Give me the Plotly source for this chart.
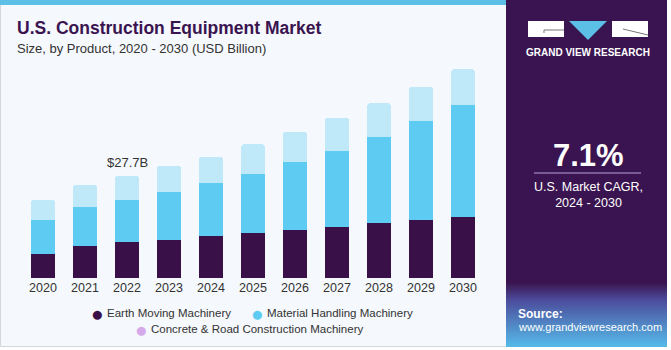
import plotly.graph_objects as go

# ---------------- data ----------------
years = ["2020", "2021", "2022", "2023", "2024", "2025", "2026", "2027", "2028", "2029", "2030"]
earth_moving = [6.58, 8.75, 9.64, 10.29, 11.37, 12.27, 12.89, 13.70, 14.79, 15.60, 16.52]
material_handling = [9.21, 10.48, 11.56, 12.89, 14.43, 15.98, 18.41, 20.58, 23.48, 26.81, 30.22]
concrete_road = [5.42, 5.96, 6.50, 7.15, 7.04, 7.93, 8.31, 9.13, 9.02, 9.32, 9.75]
series_names = ["Earth Moving Machinery", "Material Handling Machinery",
                "Concrete & Road Construction Machinery"]
highlight_label = "&#36;27.7B"
highlight_index = 2
cagr_text = "7.1%"

# ---------------- style ----------------
C_DARK = "#3a1049"
C_MED = "#5ecbf3"
C_LIGHT = "#bfe9f9"
C_LEG3 = "#d6a9ea"
C_PANEL = "#3a1450"
C_BG = "#f5f8fc"
C_TEXT = "#333333"
FONT = "Liberation Sans, Arial, sans-serif"

W, H = 671, 350
ML, MR, MT, MB = 22, 187, 60, 72
PW, PH = W - ML - MR, H - MT - MB


def px(x):
    return (x - ML) / PW


def py(y):
    return (H - MB - y) / PH


fig = go.Figure()
for vals, col, name in zip([earth_moving, material_handling, concrete_road],
                           [C_DARK, C_MED, C_LIGHT], series_names):
    fig.add_trace(go.Bar(x=years, y=vals, name=name, marker=dict(color=col, line=dict(width=0)),
                         showlegend=False, hoverinfo="skip"))

totals = [a + b + c for a, b, c in zip(earth_moving, material_handling, concrete_road)]

shapes = []
# left panel background
shapes.append(dict(type="rect", xref="paper", yref="paper", x0=px(0.5), x1=px(520), y0=py(346.5), y1=py(0),
                   fillcolor=C_BG, line=dict(color="#d3d6da", width=1), layer="below"))
# top blue strip
shapes.append(dict(type="rect", xref="paper", yref="paper", x0=px(0), x1=px(506), y0=py(5), y1=py(0),
                   fillcolor="#5cc0e6", line=dict(width=0), layer="below"))
# right panel
shapes.append(dict(type="rect", xref="paper", yref="paper", x0=px(506), x1=px(667), y0=py(347), y1=py(0),
                   fillcolor=C_PANEL, line=dict(width=0), layer="below"))


# gradient bottom of right panel
def hex2rgb(h):
    h = h.lstrip("#")
    return [int(h[i:i + 2], 16) for i in (0, 2, 4)]


stops = [(283, hex2rgb("#3b1650")), (300, hex2rgb("#4c4c9c")), (347, hex2rgb("#55bbea"))]
y = 283
while y < 347:
    yc = y + 1
    for (ya, ca), (yb, cb) in zip(stops[:-1], stops[1:]):
        if ya <= yc <= yb:
            t = (yc - ya) / (yb - ya)
            c = [round(ca[i] + (cb[i] - ca[i]) * t) for i in range(3)]
    shapes.append(dict(type="rect", xref="paper", yref="paper", x0=px(506), x1=px(667),
                       y0=py(min(y + 2, 347)), y1=py(y), fillcolor="rgb(%d,%d,%d)" % tuple(c),
                       line=dict(width=0), layer="below"))
    y += 2

# logo
shapes.append(dict(type="rect", xref="paper", yref="paper", x0=px(528), x1=px(564), y0=py(37), y1=py(21),
                   fillcolor="white", line=dict(width=0)))
shapes.append(dict(type="rect", xref="paper", yref="paper", x0=px(612), x1=px(648), y0=py(37), y1=py(21),
                   fillcolor="white", line=dict(width=0)))
shapes.append(dict(type="path", xref="paper", yref="paper",
                   path="M %f,%f L %f,%f L %f,%f Z" % (px(569), py(21), px(607), py(21), px(588), py(40)),
                   fillcolor="#5cc0e6", line=dict(width=0)))
shapes.append(dict(type="path", xref="paper", yref="paper",
                   path="M %f,%f L %f,%f L %f,%f" % (px(544), py(33), px(544), py(30), px(564), py(30)),
                   line=dict(color="#777777", width=1)))
shapes.append(dict(type="line", xref="paper", yref="paper", x0=px(623), x1=px(648), y0=py(29), y1=py(35),
                   line=dict(color="#777777", width=1)))
# CAGR underline
shapes.append(dict(type="line", xref="paper", yref="paper", x0=px(534), x1=px(641), y0=py(173), y1=py(173),
                   line=dict(color="#b7a2d4", width=1.2)))

annotations = []


def ann(x, y, text, size, color=C_TEXT, xanchor="left", bold=False, align="left"):
    annotations.append(dict(xref="paper", yref="paper", x=px(x), y=py(y), text=("<b>%s</b>" % text) if bold else text,
                            showarrow=False, xanchor=xanchor, yanchor="middle", align=align,
                            font=dict(size=size, color=color, family=FONT)))


ann(15, 28, "U.S. Construction Equipment Market", 17.5, "#3a1450", bold=True)
ann(15, 48, "Size, by Product, 2020 - 2030 (USD Billion)", 13, C_TEXT)
ann(588, 52, "GRAND VIEW RESEARCH", 10, "white", xanchor="center", bold=True)
ann(588, 155, cagr_text, 31, "white", xanchor="center", bold=True)
ann(588, 195, "U.S. Market CAGR,<br>2024 - 2030", 12.5, "white", xanchor="center", align="center")
ann(516, 314, "Source:", 12, "white", bold=True)
ann(516, 327, "www.grandviewresearch.com", 11, "white")

# legend (manual)
leg = [(97, 313, C_DARK, series_names[0]), (257, 313, C_MED, series_names[1]),
       (141, 329, C_LEG3, series_names[2])]
for x, yy, col, name in leg:
    ann(x, yy, "●", 21, col, xanchor="center")
    ann(x + 8, yy, name, 11.5, C_TEXT)

# value label
annotations.append(dict(x=highlight_index, y=totals[highlight_index], xref="x", yref="y",
                        text=highlight_label, showarrow=False, yanchor="bottom", yshift=4,
                        font=dict(size=13, color=C_TEXT, family=FONT)))

YMAX = totals[highlight_index] / 102.3 * PH

fig.update_layout(
    width=W, height=H, margin=dict(l=ML, r=MR, t=MT, b=MB),
    paper_bgcolor="white", plot_bgcolor="rgba(0,0,0,0)",
    barmode="stack", bargap=0.43, barcornerradius=3,
    shapes=shapes, annotations=annotations, showlegend=False,
    xaxis=dict(type="category", range=[-0.5, len(years) - 0.5], showgrid=False, zeroline=False,
               showline=False, ticks="", tickfont=dict(size=12.5, color=C_TEXT, family=FONT), fixedrange=True),
    yaxis=dict(range=[0, YMAX], visible=False, fixedrange=True),
    font=dict(family=FONT),
)

fig.write_html("out.html")
